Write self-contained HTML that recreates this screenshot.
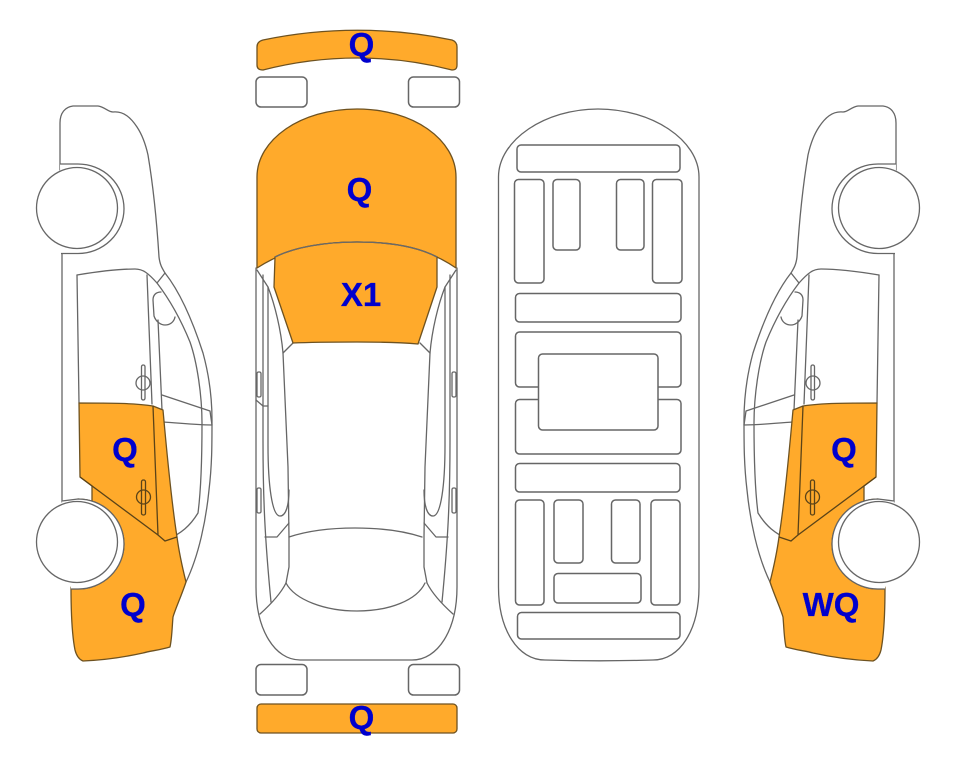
<!DOCTYPE html>
<html>
<head>
<meta charset="utf-8">
<style>
html,body{margin:0;padding:0;background:#fff;width:963px;height:768px;overflow:hidden}
svg{display:block;filter:blur(0.35px)}
.l{fill:none;stroke:#666;stroke-width:1.3;stroke-linejoin:round;stroke-linecap:round}
.w{fill:#fff;stroke:#666;stroke-width:1.3}
.o{fill:#FFAA2B;stroke:#6e5220;stroke-width:1.3;stroke-linejoin:round}
.d{fill:none;stroke:#5a4318;stroke-width:1.3}
.r{fill:#fff;stroke:#666;stroke-width:1.5}
text{font-family:"Liberation Sans",sans-serif;font-weight:bold;font-size:33px;fill:#0000CD;stroke:#0000CD;stroke-width:0.3;text-anchor:middle}
</style>
</head>
<body>
<svg width="963" height="768" viewBox="0 0 963 768" xmlns="http://www.w3.org/2000/svg">
<defs>
<g id="side">
  <!-- body outline -->
  <path class="l" d="M60 170 L60 123 C60 113 65 107 73 106 L98 106 C105 107 108 112 113 112 C124 111 131 118 137 127 C143 136 146 146 148 155 C153 185 157 225 159 257 C160 265 162 268 165 273 C180 292 193 322 203 353 C209 375 212 395 212 420 C212 445 212 465 209 490 C206 520 199 555 186 582"/>
  <path class="l" d="M62 253 L62 502 M77 275 L79 403"/>
  <path class="l" d="M77 275 C95 272 118 269 135 269 C143 269 148 273 157 283 C170 300 181 320 190 342 C197 362 202 395 202 423 C202 455 201 490 198 513 C190 526 182 533 165 541"/>
  <path class="l" d="M147 275 L152 404 M158 320 L162 410"/>
  <path class="l" d="M165 273 L157 283"/>
  <path class="l" d="M161 292 C156 292 153 295 153 300 L154 316 C156 322 161 325 165 325 C170 325 174 322 175 317"/>
  <path class="l" d="M162 395 L210 411 L212 425 C195 425 180 423 163 422"/>
  <rect class="l" x="141.500" y="365" width="3.500" height="35" rx="1.700"/>
  <circle class="l" cx="143" cy="383" r="7"/>
  <!-- orange -->
  <path class="o" d="M79 403 C105 403 135 403 153 406 L163 410 C167 455 172 505 177 537 C179 552 183 570 186 582 C181 597 176 607 173 617 C172 628 172 638 170 647 C160 650 150 651 143 653 C125 657 105 660 83 661 C78 659 76 654 75 650 C72 635 71 610 71 587 L71 589 L78 589 A46 45 0 0 0 78 499 L92 503 L92 486 L80 477 Z"/>
  <path class="d" d="M153 406 L158 535 M80 477 L158 535 L165 541 L177 537"/>
  <rect class="d" x="141.500" y="480" width="4" height="35" rx="1.800"/>
  <circle class="d" cx="143.500" cy="497" r="7"/>
  <!-- wheel arch lines and wheel -->
  <path class="w" d="M60 164 L78 164 A46 44.750 0 0 1 78 253.500 L61 253.500"/>
  <path class="w" d="M62 501 L78 499 A46 45 0 0 1 78 589 L71 589"/>
  <circle class="w" cx="77" cy="208" r="40.500"/>
  <circle class="w" cx="77" cy="542" r="40.500"/>
</g>
</defs>

<use href="#side"/>
<use href="#side" transform="matrix(-1 0 0 1 956 0)"/>

<!-- top view car -->
<path class="l" d="M256 268 L256 587 C256 630 275 660 300 660 L412 660 C438 660 457 630 457 587 L457 268"/>
<g id="half">
  <path class="l" d="M263 275 L263 440 C263 500 265 540 271 602"/>
  <path class="l" d="M268 287 L268 445 C268 485 272 516 280 516 C286 516 289 505 289 490"/>
  <path class="l" d="M257 270 L268 287 C275 305 281 330 283 353 L288 467 L289 537 L289 567 L286 583"/>
  <path class="l" d="M283 353 L293 343"/>
  <path class="l" d="M289 523 L277 537 L265 537"/>
  <path class="l" d="M286 583 C280 595 270 605 260 614"/>
  <rect class="l" x="257" y="372" width="4" height="25" rx="1.500"/>
  <rect class="l" x="257" y="488" width="4" height="25" rx="1.500"/>
</g>
<use href="#half" transform="matrix(-1 0 0 1 713 0)"/>
<path class="l" d="M256 400 L263 406 L268 406"/>
<path class="l" d="M289 537 C325 525 385 525 422 537"/>
<path class="l" d="M286 583 C295 600 325 611 357 611 C390 611 417 600 425 583"/>

<!-- hood, windshield -->
<path class="o" d="M257 268 L257 177 C257 140 300 109 357 109 C414 109 456 140 456 177 L456 268 C430 250 400 242 357 242 C315 242 285 250 257 268 Z"/>
<path class="o" d="M275 257 C295 247 325 242 357 242 C390 242 418 247 437 257 L437 287 L418 344 C395 342 375 342 357 342 C335 342 315 342 293 343 L274 287 Z"/>
<path d="M275 257 C295 247 325 242 357 242 C390 242 418 247 437 257" fill="none" stroke="#6a6a6a" stroke-width="1.300"/>

<!-- bumpers -->
<path class="o" d="M257 47 C257 43 259 41 263 40 C325 27 390 27 452 40 C455 41 457 43 457 47 L457 65 C457 69 455 70 452 70 C390 54 325 54 263 70 C260 70 257 69 257 65 Z"/>
<rect class="o" x="257" y="704" width="200" height="29" rx="4"/>
<rect class="r" x="256" y="77" width="51" height="30" rx="5"/>
<rect class="r" x="408.500" y="77" width="51" height="30" rx="5"/>
<rect class="r" x="256" y="664.500" width="51" height="30.500" rx="5"/>
<rect class="r" x="408.500" y="664.500" width="51" height="30.500" rx="5"/>

<!-- underside -->
<path class="l" d="M498.500 177 C498.500 140 545 109 598 109 C652 109 699 140 699 177 L699 587 C699 630 680 660 653 660 C620 661 580 661 545 660 C518 660 498.500 630 498.500 587 Z"/>
<g class="r">
  <rect x="517" y="145" width="163" height="27" rx="4"/>
  <rect x="514.500" y="179.500" width="29.500" height="103.500" rx="4"/>
  <rect x="553" y="179.500" width="27" height="70.500" rx="4"/>
  <rect x="616.500" y="179.500" width="27.500" height="70.500" rx="4"/>
  <rect x="652.500" y="179.500" width="29.500" height="103.500" rx="4"/>
  <rect x="515.500" y="293.500" width="165.500" height="28.500" rx="4"/>
  <rect x="515.500" y="332" width="165.500" height="55" rx="4"/>
  <rect x="515.500" y="399.500" width="165.500" height="54.500" rx="4"/>
  <rect x="538.500" y="354" width="119.500" height="76" rx="4"/>
  <rect x="515.500" y="463.500" width="164.500" height="28.500" rx="4"/>
  <rect x="515.500" y="500" width="28.500" height="105" rx="4"/>
  <rect x="554" y="500" width="29" height="63" rx="4"/>
  <rect x="611.500" y="500" width="28.500" height="63" rx="4"/>
  <rect x="651" y="500" width="29" height="105" rx="4"/>
  <rect x="554" y="573.500" width="87" height="29.500" rx="4"/>
  <rect x="517.500" y="612.500" width="162.500" height="26.500" rx="4"/>
</g>

<!-- labels -->
<text x="361.500" y="56">Q</text>
<text x="359.500" y="201">Q</text>
<text x="361" y="306">X1</text>
<text x="361.500" y="729">Q</text>
<text x="125" y="461">Q</text>
<text x="133" y="616">Q</text>
<text x="844" y="461">Q</text>
<text x="831" y="616">WQ</text>
</svg>
</body>
</html>
